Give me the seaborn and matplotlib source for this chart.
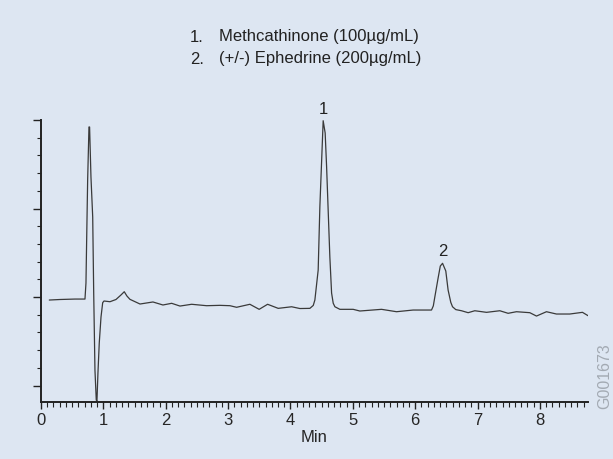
import matplotlib
matplotlib.use("Agg")
import matplotlib.pyplot as plt
import seaborn as sns
import pandas as pd
from matplotlib.ticker import MultipleLocator

# chromatogram trace (time in min, detector signal in arbitrary units)
time_min = [0.133, 0.304, 0.545, 0.705, 0.721, 0.732, 0.748, 0.769, 0.779, 0.801,
            0.829, 0.845, 0.865, 0.886, 0.897, 0.913, 0.934, 0.962, 0.989, 1.010,
            1.106, 1.202, 1.282, 1.335, 1.378, 1.426, 1.587, 1.795, 1.955, 2.095,
            2.228, 2.415, 2.655, 2.869, 3.029, 3.136, 3.349, 3.498, 3.633, 3.803,
            4.018, 4.151, 4.311, 4.365, 4.391, 4.444, 4.471, 4.498, 4.524, 4.556,
            4.579, 4.604, 4.631, 4.659, 4.685, 4.712, 4.792, 5.005, 5.112, 5.460,
            5.700, 5.966, 6.261, 6.290, 6.314, 6.367, 6.402, 6.438, 6.490, 6.527,
            6.570, 6.598, 6.650, 6.742, 6.848, 6.955, 7.143, 7.356, 7.489, 7.623,
            7.837, 7.944, 8.104, 8.264, 8.478, 8.681, 8.771]
signal = [0.966, 0.972, 0.977, 0.977, 1.158, 1.644, 2.322, 2.921, 2.921, 2.356,
          1.904, 1.045, 0.175, -0.164, -0.175, 0.141, 0.480, 0.774, 0.936, 0.955,
          0.947, 0.972, 1.023, 1.060, 1.011, 0.974, 0.921, 0.944, 0.910, 0.929,
          0.898, 0.918, 0.902, 0.906, 0.902, 0.884, 0.918, 0.861, 0.918, 0.872,
          0.890, 0.870, 0.872, 0.905, 0.966, 1.305, 2.020, 2.514, 2.992, 2.853,
          2.472, 1.983, 1.455, 1.045, 0.930, 0.890, 0.861, 0.861, 0.842, 0.861,
          0.834, 0.853, 0.853, 0.900, 1.000, 1.215, 1.350, 1.381, 1.294, 1.079,
          0.940, 0.890, 0.858, 0.845, 0.823, 0.845, 0.827, 0.845, 0.816, 0.834,
          0.823, 0.785, 0.834, 0.808, 0.808, 0.827, 0.789]

peak_ids = ["1", "2"]
peak_times = [4.524, 6.438]
peak_heights = [2.992, 1.381]
compounds = ["Methcathinone (100µg/mL)", "(+/-) Ephedrine (200µg/mL)"]
x_ticks = [0, 1, 2, 3, 4, 5, 6, 7, 8]

BG = "#dde6f2"

sns.set_style("ticks")
plt.rcParams["font.family"] = ["Liberation Sans", "DejaVu Sans"]
plt.rcParams["font.size"] = 12

df = pd.DataFrame({"time": time_min, "signal": signal})

fig = plt.figure(figsize=(6.13, 4.59), dpi=100, facecolor=BG)
ax = fig.add_axes([41 / 613, 57 / 459, 547 / 613, 282 / 459])
ax.set_facecolor(BG)

sns.lineplot(data=df, x="time", y="signal", estimator=None, sort=False,
             color="#3a3a3a", linewidth=0.9, ax=ax)

ax.set_xlim(0, 8.77)
ax.set_ylim(-0.186, 3.0)
ax.set_xticks(x_ticks)
ax.xaxis.set_minor_locator(MultipleLocator(0.1))
ax.yaxis.set_major_locator(MultipleLocator(1))
ax.yaxis.set_minor_locator(MultipleLocator(0.2))
ax.set_yticklabels([])
ax.tick_params(axis="x", which="major", length=5, width=1, labelsize=12, pad=3, color="#222222")
ax.tick_params(axis="x", which="minor", length=3.5, width=0.8, color="#222222")
ax.tick_params(axis="y", which="major", length=6, width=1, color="#222222")
ax.tick_params(axis="y", which="minor", length=3, width=0.8, color="#222222")
ax.set_xlabel("Min", fontsize=12, labelpad=1)
ax.set_ylabel("")
for s in ["top", "right"]:
    ax.spines[s].set_visible(False)
for s in ["left", "bottom"]:
    ax.spines[s].set_linewidth(1.4)
    ax.spines[s].set_color("#222222")

for pid, pt, ph in zip(peak_ids, peak_times, peak_heights):
    ax.annotate(pid, (pt, ph), xytext=(0, 3), textcoords="offset points",
                ha="center", va="bottom", fontsize=12, color="#222222",
                annotation_clip=False)

for i, name in enumerate(compounds):
    y = 1 - (37 + 22 * i) / 459
    fig.text(190 / 613, y, f"{i + 1}.", ha="left", va="center", fontsize=12, color="#222222")
    fig.text(219 / 613, y, name, ha="left", va="center", fontsize=12, color="#222222")

fig.text(605 / 613, 1 - 376 / 459, "G001673", rotation=90, ha="center", va="center",
         fontsize=11.5, color="#a3aab3")

plt.savefig("out.png", dpi=100, facecolor=BG)
